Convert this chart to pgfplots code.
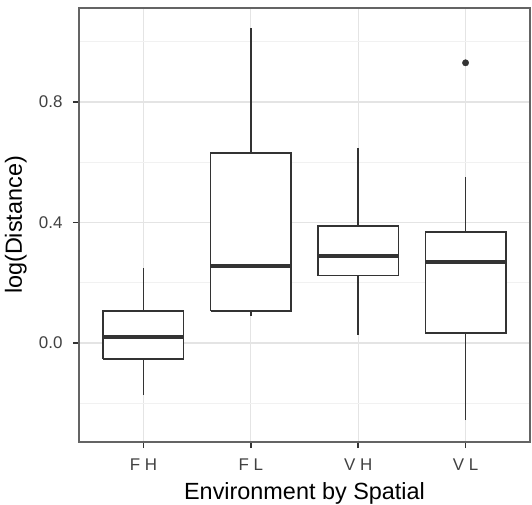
\documentclass[border=0pt]{standalone}
\usepackage{fontspec}
\setmainfont{Liberation Sans}
\usepackage{pgfplots}
\pgfplotsset{compat=1.18}
\definecolor{boxline}{RGB}{51,51,51}
\definecolor{ticklab}{RGB}{65,65,65}
\definecolor{gridmaj}{RGB}{228,228,228}
\definecolor{gridmin}{RGB}{241,241,241}
\definecolor{frame}{RGB}{100,100,100}

% one box: position, lower whisker, Q1, median, Q3, upper whisker
\newcommand{\gbox}[6]{%
  \addplot[boxline, line width=1.5bp] coordinates {(#1,#2) (#1,#3)};
  \addplot[boxline, line width=1.5bp] coordinates {(#1,#5) (#1,#6)};
  \addplot[boxline, fill=white, line width=1.5bp, line join=miter]
    coordinates {(#1-0.375,#3) (#1+0.375,#3) (#1+0.375,#5) (#1-0.375,#5) (#1-0.375,#3)};
  \addplot[boxline, line width=3.5bp] coordinates {(#1-0.375,#4) (#1+0.375,#4)};
}

\begin{document}
\begin{tikzpicture}
\begin{axis}[
  scale only axis,
  width=451bp, height=434bp,
  xmin=0.4, xmax=4.6,
  ymin=-0.329, ymax=1.112,
  xtick={1,2,3,4},
  xticklabels={F H, F L, V H, V L},
  ytick={0,0.4,0.8},
  minor ytick={-0.2,0.2,0.6,1.0},
  xtick pos=bottom, ytick pos=left,
  yticklabel style={/pgf/number format/fixed, /pgf/number format/fixed zerofill,
    /pgf/number format/precision=1, xshift=-7bp},
  /pgf/number format/assume math mode=true,
  ticklabel style={font=\fontsize{17}{17}\selectfont, text=ticklab},
  xticklabel style={yshift=-7bp},
  xmajorgrids, ymajorgrids, yminorgrids,
  major grid style={gridmaj, line width=1.2bp},
  minor grid style={gridmin, line width=0.7bp},
  tick align=outside,
  major tick length=6bp,
  minor tick length=0pt,
  tick style={boxline, line width=1.4bp},
  axis line style={frame, line width=1.3bp},
  xlabel={Environment by Spatial},
  ylabel={log(Distance)},
  label style={font=\fontsize{23.5}{23.5}\selectfont},
  xlabel style={at={(axis description cs:0.5,-0.1336)}, anchor=base},
  ylabel style={at={(axis description cs:-0.1264,0.5)}, anchor=base},
  clip=false,
]
\gbox{1}{-0.173}{-0.053}{0.020}{0.106}{0.249}
\gbox{2}{0.090}{0.106}{0.256}{0.631}{1.046}
\gbox{3}{0.027}{0.223}{0.289}{0.389}{0.648}
\gbox{4}{-0.256}{0.033}{0.269}{0.369}{0.551}
\addplot[only marks, mark=*, mark size=3.2bp, boxline] coordinates {(4,0.930)};
\end{axis}
\pgfresetboundingbox
\path[use as bounding box] ([xshift=-79bp,yshift=-63bp]current axis.south west)
  rectangle ([xshift=2bp,yshift=8bp]current axis.north east);
\end{tikzpicture}
\end{document}
